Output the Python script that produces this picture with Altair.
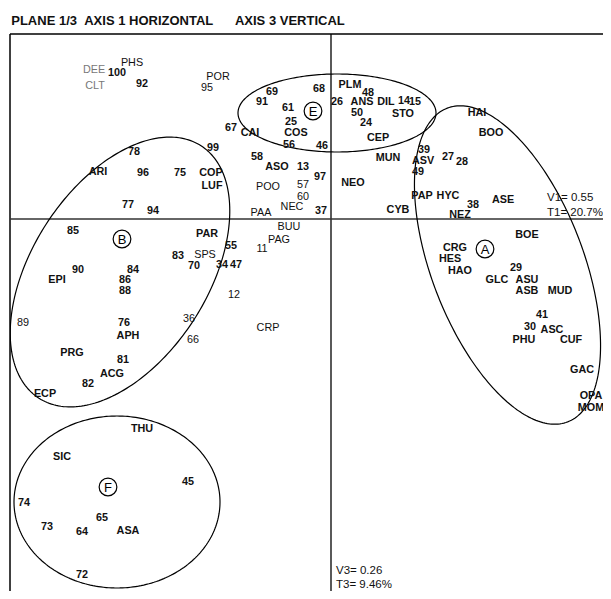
import numpy as np
import pandas as pd
import altair as alt

# ---- point labels (factor scores, axis 1 = x, axis 3 = y) ----
names = ["DEE","100","PHS","CLT","92","POR","95","67","99","78","ARI","96","75","COP","LUF","77","94","58",
         "69","68","91","61","25","CAI","COS","56","46","PLM","48","26","ANS","DIL","14","15","50","STO","24","CEP",
         "ASO","13","97","POO","57","60","NEC","37","NEO","MUN","PAA","BUU","PAG","11",
         "HAI","BOO","39","ASV","27","28","49","PAP","HYC","38","ASE","NEZ","CYB",
         "BOE","CRG","HES","HAO","29","GLC","ASU","ASB","MUD","41","30","ASC","PHU","CUF","GAC","OPA","MOM",
         "85","PAR","83","SPS","70","90","84","EPI","86","88","55","34","47","12","36","66","CRP",
         "89","76","APH","PRG","81","ACG","82","ECP",
         "THU","SIC","45","74","65","73","64","ASA","72"]
xs = [-2.37,-2.14,-1.99,-2.36,-1.89,-1.13,-1.24,-1.00,-1.18,-1.97,-2.33,-1.88,-1.51,-1.20,-1.19,-2.03,-1.78,-0.74,
      -0.59,-0.12,-0.69,-0.43,-0.40,-0.81,-0.35,-0.42,-0.09,0.19,0.37,0.06,0.31,0.55,0.73,0.84,0.26,0.72,0.35,0.47,
      -0.54,-0.28,-0.11,-0.63,-0.28,-0.28,-0.39,-0.10,0.22,0.57,-0.70,-0.42,-0.52,-0.69,
      1.46,1.60,0.93,0.92,1.17,1.31,0.87,0.91,1.17,1.42,1.72,1.29,0.67,
      1.96,1.24,1.19,1.29,1.85,1.66,1.96,1.96,2.29,2.11,1.99,2.21,1.93,2.40,2.51,2.60,2.60,
      -2.58,-1.24,-1.53,-1.26,-1.37,-2.53,-1.98,-2.74,-2.06,-2.06,-1.00,-1.09,-0.95,-0.97,-1.42,-1.38,-0.63,
      -3.08,-2.07,-2.03,-2.59,-2.08,-2.19,-2.43,-2.86,
      -1.89,-2.69,-1.43,-3.07,-2.29,-2.84,-2.49,-2.03,-2.49]
ys = [1.49,1.46,1.56,1.33,1.35,1.42,1.31,0.91,0.71,0.67,0.47,0.46,0.46,0.46,0.33,0.14,0.08,0.62,
      1.27,1.30,1.17,1.11,0.97,0.86,0.86,0.74,0.73,1.34,1.26,1.17,1.17,1.17,1.18,1.17,1.06,1.05,0.96,0.81,
      0.52,0.52,0.42,0.32,0.34,0.22,0.12,0.08,0.36,0.61,0.06,-0.08,-0.21,-0.30,
      1.06,0.86,0.69,0.58,0.62,0.57,0.47,0.23,0.23,0.14,0.19,0.04,0.09,
      -0.16,-0.29,-0.40,-0.52,-0.49,-0.61,-0.61,-0.72,-0.72,-0.96,-1.08,-1.11,-1.21,-1.21,-1.51,-1.77,-1.89,
      -0.12,-0.15,-0.37,-0.36,-0.47,-0.51,-0.51,-0.61,-0.61,-0.72,-0.27,-0.46,-0.46,-0.76,-1.00,-1.21,-1.09,
      -1.04,-1.04,-1.17,-1.34,-1.41,-1.55,-1.65,-1.75,
      -2.10,-2.38,-2.63,-2.84,-2.99,-3.08,-3.13,-3.12,-3.56]
light = ["DEE","CLT","PHS","POR","95","SPS","12","11","CRP","66","PAG","BUU","NEC","PAA","POO","57","60","36","89"]
gray = ["DEE","CLT"]

# ---- groups (circled letters and ellipses) ----
group_names = ["A","B","E","F"]
group_x = [1.54,-2.09,-0.18,-2.23]
group_y = [-0.30,-0.20,1.08,-2.68]
ell_cx = [1.765,-2.11,0.06,-2.14]
ell_cy = [-0.46,-0.53,1.06,-2.83]
ell_a = [1.68,1.50,0.99,1.03]
ell_b = [0.76,0.88,0.39,0.86]
ell_angle = [-69.0,57.3,0.0,0.0]

# ---- inertia notes ----
note_text = ["V1= 0.55","T1= 20.7%","V3= 0.26","T3= 9.46%"]
note_x = [2.16,2.16,0.05,0.05]
note_y = [0.21,0.06,-3.52,-3.66]

x_domain = [-3.21, 2.72]
y_domain = [-3.72, 1.85]
frame_x = [x_domain[0]]
frame_y = [y_domain[1]]

pts = pd.DataFrame({"name": names, "x": xs, "y": ys})
pts["w"] = ["normal" if n in light else "bold" for n in names]
pts["c"] = ["gray" if n in gray else "black" for n in names]

rows = []
t = np.linspace(0, 2*np.pi, 241)
for g, cx, cy, a, b, ang in zip(group_names, ell_cx, ell_cy, ell_a, ell_b, ell_angle):
    th = np.radians(ang)
    ex = cx + a*np.cos(t)*np.cos(th) - b*np.sin(t)*np.sin(th)
    ey = cy + a*np.cos(t)*np.sin(th) + b*np.sin(t)*np.cos(th)
    for i, (u, v) in enumerate(zip(ex, ey)):
        rows.append({"g": g, "i": i, "x": u, "y": v})
ell = pd.DataFrame(rows)

grp = pd.DataFrame({"g": group_names, "x": group_x, "y": group_y})
notes = pd.DataFrame({"t": note_text, "x": note_x, "y": note_y})

X = alt.X("x:Q", scale=alt.Scale(domain=x_domain, nice=False, zero=False), axis=None)
Y = alt.Y("y:Q", scale=alt.Scale(domain=y_domain, nice=False, zero=False), axis=None)
FONT = "Liberation Sans"

ellipses = alt.Chart(ell).mark_line(color="black", strokeWidth=1.2, clip=True).encode(
    x=X, y=Y, detail="g:N", order="i:Q")

frame_l = alt.Chart(pd.DataFrame({"x": frame_x})).mark_rule(color="black", strokeWidth=1.5).encode(x=X)
frame_t = alt.Chart(pd.DataFrame({"y": frame_y})).mark_rule(color="black", strokeWidth=1.5).encode(y=Y)
axes_v = alt.Chart(pd.DataFrame({"x": [0.0]})).mark_rule(color="black", strokeWidth=1.3).encode(x=X)
axes_h = alt.Chart(pd.DataFrame({"y": [0.0]})).mark_rule(color="#333", strokeWidth=1.3).encode(y=Y)

def labels_layer(df, weight, color):
    return alt.Chart(df).mark_text(font=FONT, fontSize=10.8, fontWeight=weight, color=color,
                                   align="center", baseline="middle").encode(x=X, y=Y, text="name:N")

lab_bold = labels_layer(pts[(pts.w == "bold")], "bold", "#111")
lab_light = labels_layer(pts[(pts.w == "normal") & (pts.c == "black")], "normal", "#111")
lab_gray = labels_layer(pts[pts.c == "gray"], "normal", "#777")

circles = alt.Chart(grp).mark_point(shape="circle", size=314, filled=False, color="black",
                                    strokeWidth=1.2, opacity=1).encode(x=X, y=Y)
letters = alt.Chart(grp).mark_text(font=FONT, fontSize=13, color="black", align="center",
                                   baseline="middle", dy=1).encode(x=X, y=Y, text="g:N")

note_layer = alt.Chart(notes).mark_text(font=FONT, fontSize=11.5, color="#111", align="left",
                                        baseline="middle").encode(x=X, y=Y, text="t:N")

title_text = "PLANE 1/3\u00a0\u00a0AXIS 1 HORIZONTAL\u00a0\u00a0\u00a0\u00a0\u00a0\u00a0AXIS 3 VERTICAL"

chart = alt.layer(frame_l, frame_t, axes_v, axes_h, ellipses, lab_bold, lab_light, lab_gray,
                  circles, letters, note_layer).properties(
    width=593, height=557,
    padding={"left": 2, "top": 26, "right": 0, "bottom": 0},
    autosize="none",
    title=alt.Title(title_text, anchor="start", font=FONT, fontSize=13, fontWeight="bold",
                    color="#111", offset=5, dx=2),
).configure_view(stroke=None)

chart.save("out.html", embed_options={"renderer": "svg", "actions": False})
